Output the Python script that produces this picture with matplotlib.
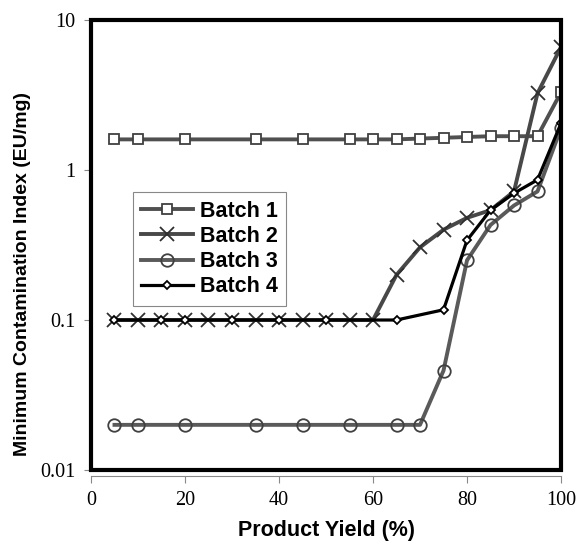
import numpy as np
import matplotlib
matplotlib.use('Agg')
import matplotlib.pyplot as plt
from matplotlib.patches import Rectangle
from matplotlib.ticker import FixedLocator, FixedFormatter, NullLocator

# values
x_b1 = [5, 10, 20, 35, 45, 55, 60, 65, 70, 75, 80, 85, 90, 95, 100]
y_b1 = [1.6, 1.6, 1.6, 1.6, 1.6, 1.6, 1.6, 1.6, 1.62, 1.64, 1.66, 1.68, 1.68, 1.68, 3.3]

x_b2 = [5, 10, 15, 20, 25, 30, 35, 40, 45, 50, 55, 60, 65, 70, 75, 80, 85, 90, 95, 100]
y_b2 = [0.1, 0.1, 0.1, 0.1, 0.1, 0.1, 0.1, 0.1, 0.1, 0.1, 0.1, 0.1,
        0.2, 0.305, 0.4, 0.48, 0.54, 0.72, 3.25, 6.6]

x_b3 = [5, 10, 20, 35, 45, 55, 65, 70, 75, 80, 85, 90, 95, 100]
y_b3 = [0.02, 0.02, 0.02, 0.02, 0.02, 0.02, 0.02, 0.02, 0.046, 0.25, 0.43, 0.58, 0.72, 1.9]

x_b4 = [5, 15, 20, 30, 40, 50, 65, 75, 80, 85, 90, 95, 100]
y_b4 = [0.1, 0.1, 0.1, 0.1, 0.1, 0.1, 0.1, 0.117, 0.34, 0.54, 0.70, 0.86, 2.05]

labels = ['Batch 1', 'Batch 2', 'Batch 3', 'Batch 4']
y_ticks = [0.01, 0.1, 1, 10]
y_ticklabels = ['0.01', '0.1', '1', '10']
x_ticks = [0, 20, 40, 60, 80, 100]

fig = plt.figure(figsize=(5.77, 5.45), dpi=100)
ax = fig.add_axes([0.1577, 0.1376, 0.8146, 0.8257])

ax.plot(x_b1, y_b1, color='#505050', lw=2.8, marker='s', ms=7,
        mfc='white', mec='#404040', mew=1.3, label=labels[0])
ax.plot(x_b2, y_b2, color='#484848', lw=2.8, marker='x', ms=10,
        mec='#303030', mew=1.3, label=labels[1])
ax.plot(x_b3, y_b3, color='#5a5a5a', lw=2.8, marker='o', ms=9,
        mfc='none', mec='#404040', mew=1.3, label=labels[2])
ax.plot(x_b4, y_b4, color='black', lw=2.3, marker='D', ms=4.5,
        mfc='white', mec='black', mew=1.3, label=labels[3])

ax.set_yscale('log')
ax.set_xlim(0, 100)
ax.set_ylim(0.01, 10)
ax.yaxis.set_major_locator(FixedLocator(y_ticks))
ax.yaxis.set_major_formatter(FixedFormatter(y_ticklabels))
ax.yaxis.set_minor_locator(NullLocator())
ax.set_xticks(x_ticks)

for side in ['top', 'right']:
    ax.spines[side].set_visible(False)
ax.spines['left'].set_color('#888888')
ax.spines['left'].set_linewidth(0.8)
ax.spines['bottom'].set_color('#888888')
ax.spines['bottom'].set_linewidth(0.8)
ax.spines['bottom'].set_position(('outward', 4))

# thick black plot-area frame
ax.add_patch(Rectangle((0, 0), 1, 1, transform=ax.transAxes, fill=False,
                       ec='black', lw=3.0, clip_on=False, zorder=5))

ax.tick_params(direction='out', length=5, width=0.8, color='#888888', pad=6)
for lab in ax.get_xticklabels() + ax.get_yticklabels():
    lab.set_family('Liberation Serif')
    lab.set_fontsize(14.5)

ax.set_xlabel('Product Yield (%)', family='Liberation Sans', fontweight='bold',
              fontsize=15.5, labelpad=7)
ax.set_ylabel('Minimum Contamination Index (EU/mg)', family='Liberation Sans',
              fontweight='bold', fontsize=14)
ax.yaxis.set_label_coords(-0.128, 0.435)

leg = ax.legend(loc='upper left', bbox_to_anchor=(0.089, 0.618), borderaxespad=0,
                prop={'family': 'Liberation Sans', 'weight': 'bold', 'size': 15.5},
                handlelength=2.4, handletextpad=0.3, labelspacing=0.2,
                fancybox=False, framealpha=1, borderpad=0.4)
leg.get_frame().set_edgecolor('#888888')
leg.get_frame().set_linewidth(0.8)

fig.savefig('out.png', dpi=100)
